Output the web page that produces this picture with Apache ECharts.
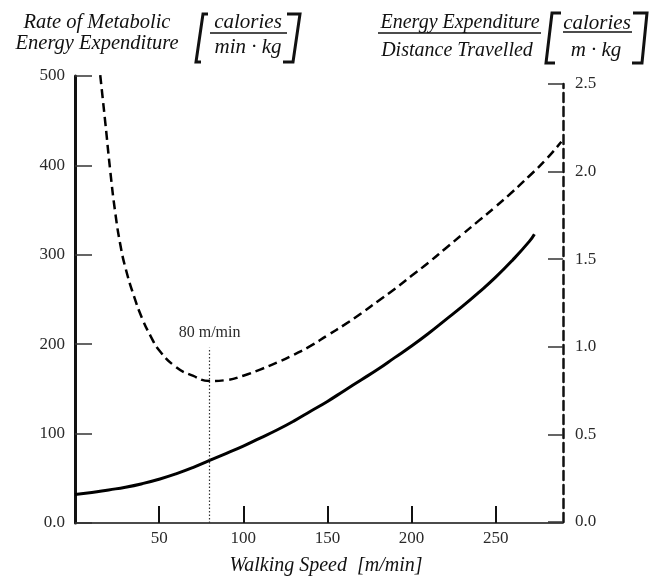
<!DOCTYPE html>
<html>
<head>
<meta charset="utf-8">
<script src="https://cdn.jsdelivr.net/npm/echarts@6/dist/echarts.min.js"></script>
<style>
  html, body { margin: 0; padding: 0; background: #fff; }
  #chart { width: 653px; height: 579px; }
</style>
</head>
<body>
<div id="chart"></div>
<script>
// Rate of metabolic energy expenditure [calories / (min·kg)] against walking speed [m/min]
const rateSpeed = [0, 10, 20, 30, 40, 50, 60, 70, 80, 90, 100, 110, 120, 130, 140, 150, 160, 170, 180, 190, 200, 210, 220, 230, 240, 250, 260, 270, 273];
const rateValue = [32, 34, 37, 40, 44, 49, 55, 62, 70, 78, 86, 95, 104, 114, 125, 136, 148, 160, 172, 185, 198, 212, 227, 242, 258, 275, 294, 315, 323];

// Energy expenditure per distance travelled [calories / (m·kg)] against walking speed
const costSpeed = [15, 18, 21, 24, 27, 30, 35, 40, 45, 50, 60, 70, 80, 90, 100, 110, 120, 130, 140, 150, 160, 170, 180, 190, 200, 210, 220, 230, 240, 250, 260, 270, 280, 289];
const costValue = [2.55, 2.28, 2.00, 1.76, 1.58, 1.45, 1.29, 1.16, 1.06, 0.98, 0.885, 0.835, 0.805, 0.81, 0.835, 0.87, 0.91, 0.955, 1.005, 1.065, 1.125, 1.19, 1.26, 1.33, 1.405, 1.48, 1.56, 1.64, 1.72, 1.80, 1.885, 1.975, 2.07, 2.17];

// Axis ticks
const speedTicks = [50, 100, 150, 200, 250];
const rateTicks = [0, 100, 200, 300, 400, 500];
const costTicks = [0, 0.5, 1.0, 1.5, 2.0, 2.5];

// Most economical walking speed
const optimumSpeed = 80;
const optimumMarkTop = 196;
const optimumLabel = '80 m/min';

const SERIF = '"Liberation Serif", "DejaVu Serif", serif';
const INK = '#111';
const LABEL_INK = '#2a2a2a';

const tickLabel = {
  fontFamily: SERIF,
  fontSize: 17,
  color: LABEL_INK
};

function titleText(text, x, y, size) {
  return {
    type: 'text',
    x: x,
    y: y,
    silent: true,
    style: {
      text: text,
      fontFamily: SERIF,
      fontStyle: 'italic',
      fontSize: size,
      fill: INK,
      align: 'center',
      verticalAlign: 'middle'
    }
  };
}

function rule(x1, y1, x2, y2, w) {
  return {
    type: 'line',
    silent: true,
    shape: { x1: x1, y1: y1, x2: x2, y2: y2 },
    style: { stroke: INK, lineWidth: w }
  };
}

function bracket(points) {
  return {
    type: 'polyline',
    silent: true,
    shape: { points: points },
    style: { stroke: INK, lineWidth: 3, fill: null, lineJoin: 'miter' }
  };
}

const chart = echarts.init(document.getElementById('chart'), null, { renderer: 'canvas' });

chart.setOption({
  animation: false,
  backgroundColor: '#fff',
  grid: [
    { left: 75, right: 90, top: 76, bottom: 56, outerBoundsMode: 'none', containLabel: false },
    { left: 75, right: 90, top: 84, bottom: 57, outerBoundsMode: 'none', containLabel: false }
  ],
  xAxis: [
    {
      type: 'value',
      gridIndex: 0,
      min: 0,
      max: 290,
      interval: 50,
      splitLine: { show: false },
      axisLine: { lineStyle: { color: INK, width: 1.5 } },
      axisTick: {
        inside: true,
        length: 17,
        customValues: speedTicks,
        lineStyle: { color: INK, width: 2 }
      },
      axisLabel: Object.assign({ margin: 7, customValues: speedTicks }, tickLabel),
      name: 'Walking Speed  [m/min]',
      nameLocation: 'middle',
      nameGap: 33,
      nameTextStyle: {
        fontFamily: SERIF,
        fontStyle: 'italic',
        fontSize: 20,
        color: INK,
        padding: [0, 0, 0, 14]
      }
    },
    {
      type: 'value',
      gridIndex: 1,
      min: 0,
      max: 290,
      show: false
    }
  ],
  yAxis: [
    {
      type: 'value',
      gridIndex: 0,
      min: 0,
      max: 500,
      interval: 100,
      splitLine: { show: false },
      axisLine: { show: true, onZero: false, lineStyle: { color: INK, width: 3 } },
      axisTick: {
        inside: true,
        length: 17,
        customValues: rateTicks,
        lineStyle: { color: '#333', width: 1.5 }
      },
      axisLabel: Object.assign({
        margin: 10,
        customValues: rateTicks,
        formatter: function (v) { return v === 0 ? '0.0' : String(v); }
      }, tickLabel)
    },
    {
      type: 'value',
      gridIndex: 1,
      position: 'right',
      min: 0,
      max: 2.5,
      interval: 0.5,
      splitLine: { show: false },
      axisLine: { show: true, onZero: false, lineStyle: { color: INK, width: 2.5, type: [9, 5] } },
      axisTick: {
        inside: true,
        length: 15,
        customValues: costTicks,
        lineStyle: { color: '#333', width: 1.5 }
      },
      axisLabel: Object.assign({
        margin: 12,
        customValues: costTicks,
        formatter: function (v) { return v.toFixed(1); }
      }, tickLabel)
    }
  ],
  series: [
    {
      name: 'Rate of Metabolic Energy Expenditure',
      type: 'line',
      xAxisIndex: 0,
      yAxisIndex: 0,
      data: rateSpeed.map(function (s, i) { return [s, rateValue[i]]; }),
      showSymbol: false,
      smooth: 0.5,
      lineStyle: { color: '#000', width: 3 },
      markLine: {
        silent: true,
        symbol: ['none', 'none'],
        lineStyle: { color: '#333', width: 1.2, type: [1.5, 2] },
        label: {
          show: true,
          position: 'end',
          distance: 7,
          formatter: optimumLabel,
          fontFamily: SERIF,
          fontSize: 16,
          color: LABEL_INK
        },
        data: [[
          { coord: [optimumSpeed, 0] },
          { coord: [optimumSpeed, optimumMarkTop] }
        ]]
      }
    },
    {
      name: 'Energy Expenditure / Distance Travelled',
      type: 'line',
      xAxisIndex: 1,
      yAxisIndex: 1,
      data: costSpeed.map(function (s, i) { return [s, costValue[i]]; }),
      showSymbol: false,
      smooth: 0.5,
      clip: false,
      lineStyle: { color: '#000', width: 2.5, type: [9, 5] }
    }
  ],
  graphic: [
    // left axis heading
    titleText('Rate of Metabolic', 97, 23, 20.5),
    titleText('Energy Expenditure', 97, 44, 20.5),
    bracket([[208, 14], [203, 14], [196, 62], [201, 62]]),
    titleText('calories', 248, 22, 21),
    rule(210, 33, 287, 33, 1.5),
    titleText('min · kg', 248, 47, 21),
    bracket([[287, 14], [300, 14], [293, 62], [283, 62]]),
    // right axis heading
    titleText('Energy Expenditure', 460, 23, 20),
    rule(378, 33, 541, 33, 1.5),
    titleText('Distance Travelled', 457, 51, 20),
    bracket([[561, 13], [552, 13], [546, 63], [555, 63]]),
    titleText('calories', 597, 23, 21),
    rule(563, 32, 632, 32, 1.5),
    titleText('m · kg', 596, 50, 21),
    bracket([[633, 13], [647, 13], [642, 63], [632, 63]])
  ]
});
</script>
</body>
</html>
